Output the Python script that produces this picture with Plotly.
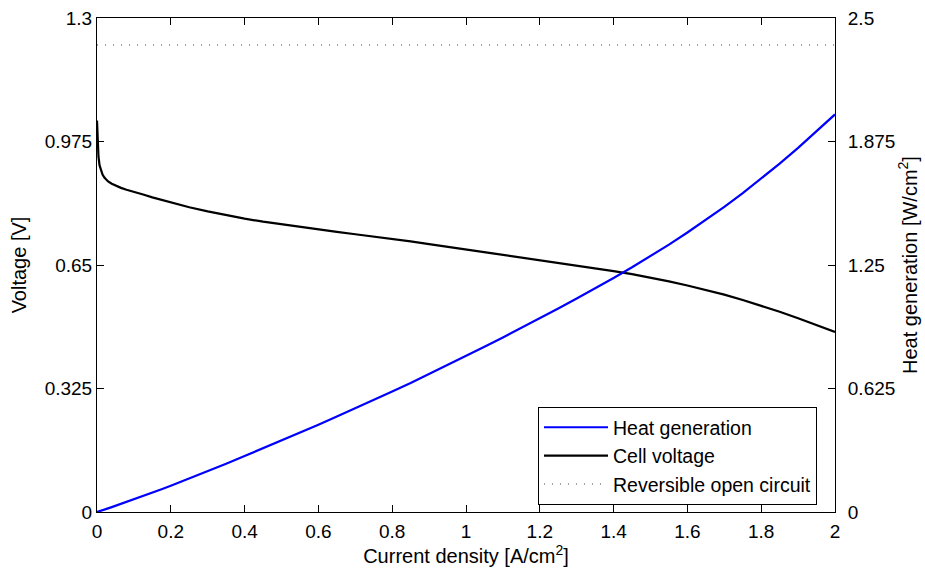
import plotly.graph_objects as go

# Current density [A/cm^2]
current = [0, 0.001, 0.002, 0.004, 0.007, 0.01, 0.015, 0.02, 0.03, 0.04, 0.05, 0.065, 0.08,
           0.1, 0.125, 0.15, 0.175, 0.2, 0.25, 0.3, 0.35, 0.4, 0.45, 0.5, 0.55, 0.6, 0.65,
           0.7, 0.75, 0.8, 0.85, 0.9, 0.95, 1.0, 1.05, 1.1, 1.15, 1.2, 1.25, 1.3, 1.35,
           1.4, 1.45, 1.5, 1.55, 1.6, 1.65, 1.7, 1.75, 1.8, 1.85, 1.9, 1.95, 2.0]
# Cell voltage [V]
cell_voltage = [1.03, 0.99, 0.965, 0.935, 0.912, 0.900, 0.888, 0.880, 0.870, 0.864, 0.859, 0.853, 0.848,
                0.843, 0.8355, 0.828, 0.821, 0.814, 0.802, 0.791, 0.781, 0.772, 0.764, 0.757, 0.750, 0.744, 0.737,
                0.731, 0.725, 0.718, 0.712, 0.705, 0.698, 0.691, 0.684, 0.677, 0.670, 0.663, 0.656, 0.649, 0.642,
                0.634, 0.626, 0.617, 0.607, 0.596, 0.585, 0.572, 0.558, 0.543, 0.527, 0.510, 0.492, 0.474]
# Heat generation [W/cm^2]
heat_gen = [0, 0.0005, 0.001, 0.0022, 0.004, 0.0058, 0.0089, 0.012, 0.0183, 0.0246, 0.031, 0.0408, 0.0506,
            0.0637, 0.0806, 0.0978, 0.1153, 0.1332, 0.1695, 0.2067, 0.2447, 0.2832, 0.3222, 0.3615, 0.4015, 0.4416, 0.483,
            0.5243, 0.5663, 0.6096, 0.6528, 0.6975, 0.7429, 0.789, 0.8358, 0.8833, 0.9315, 0.9804, 1.03, 1.0803, 1.1313,
            1.1844, 1.2383, 1.2945, 1.3532, 1.4144, 1.4768, 1.5436, 1.6135, 1.6866, 1.7631, 1.843, 1.9266, 2.012]
# Reversible open-circuit voltage [V]
rev_x = [0, 2]
rev_v = [1.229, 1.229]

left_ticks = [0, 0.325, 0.65, 0.975, 1.3]
left_labels = ["0", "0.325", "0.65", "0.975", "1.3"]
right_ticks = [0, 0.625, 1.25, 1.875, 2.5]
right_labels = ["0", "0.625", "1.25", "1.875", "2.5"]
x_ticks = [0, 0.2, 0.4, 0.6, 0.8, 1, 1.2, 1.4, 1.6, 1.8, 2]
x_labels = ["0", "0.2", "0.4", "0.6", "0.8", "1", "1.2", "1.4", "1.6", "1.8", "2"]

FONT = "Liberation Sans, Arial, Helvetica, sans-serif"
TITLE_FONT = dict(family=FONT, size=20, color="black")

fig = go.Figure()
fig.add_trace(go.Scatter(x=current, y=heat_gen, mode="lines", name="Heat generation",
                         line=dict(color="#0000ff", width=2.2), yaxis="y2"))
fig.add_trace(go.Scatter(x=current, y=cell_voltage, mode="lines", name="Cell voltage",
                         line=dict(color="#000000", width=2.2), yaxis="y"))
fig.add_trace(go.Scatter(x=rev_x, y=rev_v, mode="lines", name="Reversible open circuit",
                         line=dict(color="#444444", width=1, dash="1px,7px"), yaxis="y"))

fig.update_layout(
    width=925, height=571,
    margin=dict(l=97, r=90, t=18, b=59),
    paper_bgcolor="white", plot_bgcolor="white",
    font=dict(family=FONT, size=19, color="black"),
    showlegend=True,
    legend=dict(x=0.9756, y=0.014, xanchor="right", yanchor="bottom",
                bordercolor="black", borderwidth=1, bgcolor="white",
                font=dict(family=FONT, size=19.5, color="black"),
                tracegroupgap=0, itemwidth=64, traceorder="normal"),
    xaxis=dict(range=[0, 2], tickvals=x_ticks, ticktext=x_labels,
               ticks="inside", ticklen=7, tickcolor="black", tickwidth=1,
               showline=True, linecolor="black", linewidth=1, mirror="ticks",
               showgrid=False, zeroline=False, ticklabelstandoff=2, automargin=False,
               title=dict(text="Current density [A/cm<sup>2</sup>]", standoff=4,
                          font=TITLE_FONT)),
    yaxis=dict(range=[0, 1.3], tickvals=left_ticks, ticktext=left_labels,
               ticks="inside", ticklen=7, tickcolor="black", tickwidth=1,
               showline=True, linecolor="black", linewidth=1,
               showgrid=False, zeroline=False, automargin=False,
               title=dict(text="Voltage [V]", standoff=12, font=TITLE_FONT)),
    yaxis2=dict(range=[0, 2.5], tickvals=right_ticks, ticktext=right_labels,
                overlaying="y", side="right",
                ticks="inside", ticklen=7, tickcolor="black", tickwidth=1,
                showline=True, linecolor="black", linewidth=1,
                showgrid=False, zeroline=False, ticklabelstandoff=8, automargin=False,
                title=dict(text="Heat generation [W/cm<sup>2</sup>]", standoff=8,
                           font=TITLE_FONT)),
)

fig.write_html("out.html")
